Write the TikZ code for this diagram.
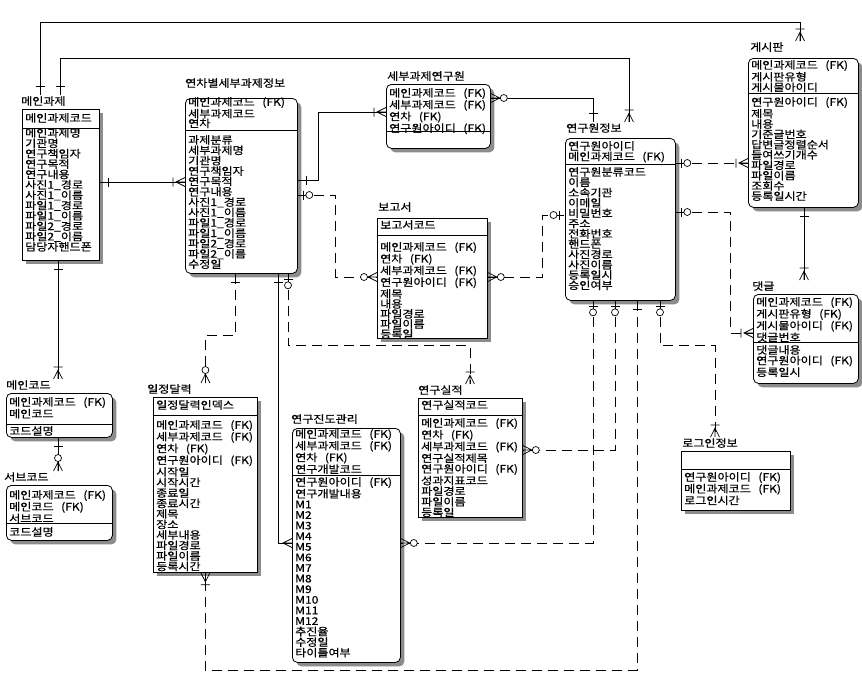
\documentclass[tikz,border=0pt]{standalone}
\usepackage{fontspec}
\newfontfamily\kr[FakeStretch=1.15,FakeBold=0.5]{Noto Sans CJK KR}
\usetikzlibrary{shadows,calc}
\newcommand{\FK}{\hspace{7.5pt}(FK)}
\begin{document}
\begin{tikzpicture}[x=1pt,y=-1pt,
  ent/.style={draw, line width=0.8pt, fill=white, inner sep=0pt, anchor=north west,
    drop shadow={shadow xshift=4pt, shadow yshift=-4pt, fill=black!45, opacity=1}},
  depent/.style={ent, rounded corners=5pt},
  sepline/.style={line width=0.8pt},
  txt/.style={font=\kr\fontsize{10.5}{#1}\selectfont, inner sep=0pt, anchor=north west, align=left},
  txt/.default=10.4,
  lbl/.style={font=\kr\fontsize{10.5}{11}\selectfont, inner sep=1pt, anchor=west},
  conn/.style={line width=0.7pt, solid},
  idrel/.style={conn},
  nidrel/.style={line width=0.7pt, dash pattern=on 10pt off 6pt},
  crowonly/.pic={\draw[conn] (0,-4.5) -- (9,0) -- (0,4.5) (0,0) -- (9,0);},
  crowbar/.pic={\draw[conn] (0,-4.5) -- (9,0) -- (0,4.5) (0,0) -- (9,0) (12,-4.5) -- (12,4.5);},
  crowcirc/.pic={\draw[conn] (0,-4.5) -- (9,0) -- (0,4.5) (0,0) -- (9,0); \draw[conn, fill=white] (13,0) circle (3.5pt);},
  onebar/.pic={\draw[conn] (9,-4.5) -- (9,4.5);},
  zeroone/.pic={\draw[conn] (6,-4.5) -- (6,4.5); \draw[conn, fill=white] (11.5,0) circle (3.5pt);}
]
\useasboundingbox (0,0) rectangle (862,697);
\fill[white] (0,0) rectangle (862,697);

% ---------------- entities ----------------
% 메인과제
\node[ent, minimum width=77pt, minimum height=151pt] (mgj) at (22,109) {};
\node[lbl] (mgjL) at (20,101) {메인과제};
\draw[sepline] (mgj.west |- 0,128) -- (mgj.east |- 0,128);
\node[txt] (mgjk) at (25,113) {메인과제코드};
\node[txt=10.35] (mgja) at (25,128) {메인과제명\\기관명\\연구책임자\\연구목적\\연구내용\\사진1\_경로\\사진1\_이름\\파일1\_경로\\파일1\_이름\\파일2\_경로\\파일2\_이름\\담당자핸드폰};

% 연차별세부과제정보
\node[depent, minimum width=112pt, minimum height=175pt] (yc) at (185,98) {};
\node[lbl] (ycL) at (184,83) {연차별세부과제정보};
\draw[sepline] (yc.west |- 0,130) -- (yc.east |- 0,130);
\node[txt=9.6] (yck) at (188,97) {메인과제코드\FK\\세부과제코드\\연차};
\node[txt=10.35] (yca) at (188,135) {과제분류\\세부과제명\\기관명\\연구책임자\\연구목적\\연구내용\\사진1\_경로\\사진1\_이름\\파일1\_경로\\파일1\_이름\\파일2\_경로\\파일2\_이름\\수정일};

% 세부과제연구원
\node[depent, minimum width=104pt, minimum height=64pt] (sby) at (386,84) {};
\node[lbl] (sbyL) at (386,76) {세부과제연구원};
\draw[sepline] (sby.west |- 0,131) -- (sby.east |- 0,131);
\node[txt=9.7] (sbyk) at (389,88) {메인과제코드\FK\\세부과제코드\FK\\연차\FK\\연구원아이디\FK};

% 보고서
\node[ent, minimum width=110pt, minimum height=120pt] (bgs) at (377,218) {};
\node[lbl] (bgsL) at (377,207) {보고서};
\draw[sepline] (bgs.west |- 0,235) -- (bgs.east |- 0,235);
\node[txt] (bgsk) at (380,220) {보고서코드};
\node[txt=10] (bgsa) at (380,242) {메인과제코드\FK\\연차\FK\\세부과제코드\FK\\연구원아이디\FK\\제목\\내용\\파일경로\\파일이름\\등록일};

% 연구원정보
\node[depent, minimum width=110pt, minimum height=162pt] (yw) at (565,138) {};
\node[lbl] (ywL) at (565,128) {연구원정보};
\draw[sepline] (yw.west |- 0,164) -- (yw.east |- 0,164);
\node[txt=9.5] (ywk) at (568,141) {연구원아이디\\메인과제코드\FK};
\node[txt=10.3] (ywa) at (568,167) {연구원분류코드\\이름\\소속기관\\이메일\\비밀번호\\주소\\전화번호\\핸드폰\\사진경로\\사진이름\\등록일시\\승인여부};

% 게시판
\node[depent, minimum width=110pt, minimum height=149pt] (gsp) at (748,58) {};
\node[lbl] (gspL) at (749,47) {게시판};
\draw[sepline] (gsp.west |- 0,93) -- (gsp.east |- 0,93);
\node[txt=9.2] (gspk) at (751,60) {메인과제코드\FK\\게시판유형\\게시물아이디};
\node[txt=10.3] (gspa) at (751,97) {연구원아이디\FK\\제목\\내용\\기준글번호\\답변글정렬순서\\들여쓰기개수\\파일경로\\파일이름\\조회수\\등록일시간};

% 댓글
\node[depent, minimum width=105pt, minimum height=89pt] (cmt) at (753,294) {};
\node[lbl] (cmtL) at (751,286) {댓글};
\draw[sepline] (cmt.west |- 0,342) -- (cmt.east |- 0,342);
\node[txt=10] (cmtk) at (756,297) {메인과제코드\FK\\게시판유형\FK\\게시물아이디\FK\\댓글번호};
\node[txt=10.5] (cmta) at (756,345) {댓글내용\\연구원아이디\FK\\등록일시};

% 메인코드
\node[depent, minimum width=106pt, minimum height=44pt] (mcd) at (6,393) {};
\node[lbl] (mcdL) at (5,385) {메인코드};
\draw[sepline] (mcd.west |- 0,424) -- (mcd.east |- 0,424);
\node[txt=9.5] (mcdk) at (9,397) {메인과제코드\FK\\메인코드};
\node[txt] (mcda) at (9,426) {코드설명};

% 서브코드
\node[depent, minimum width=106pt, minimum height=55pt] (scd) at (6,485) {};
\node[lbl] (scdL) at (3,477) {서브코드};
\draw[sepline] (scd.west |- 0,523) -- (scd.east |- 0,523);
\node[txt=9.5] (scdk) at (9,490) {메인과제코드\FK\\메인코드\FK\\서브코드};
\node[txt] (scda) at (9,527) {코드설명};

% 일정달력
\node[ent, minimum width=104pt, minimum height=175pt] (ild) at (153,397) {};
\node[lbl] (ildL) at (146,389) {일정달력};
\draw[sepline] (ild.west |- 0,415) -- (ild.east |- 0,415);
\node[txt] (ildk) at (156,400) {일정달력인덱스};
\node[txt=10.5] (ilda) at (156,420) {메인과제코드\FK\\세부과제코드\FK\\연차\FK\\연구원아이디\FK\\시작일\\시작시간\\종료일\\종료시간\\제목\\장소\\세부내용\\파일경로\\파일이름\\등록시간};

% 연구진도관리
\node[depent, minimum width=108pt, minimum height=234pt] (yjd) at (292,428) {};
\node[lbl] (yjdL) at (290,419) {연구진도관리};
\draw[sepline] (yjd.west |- 0,475) -- (yjd.east |- 0,475);
\node[txt=10] (yjdk) at (295,429) {메인과제코드\FK\\세부과제코드\FK\\연차\FK\\연구개발코드};
\node[txt=10.6] (yjda) at (295,477) {연구원아이디\FK\\연구개발내용\\M1\\M2\\M3\\M4\\M5\\M6\\M7\\M8\\M9\\M10\\M11\\M12\\추진율\\수정일\\타이틀여부};

% 연구실적
\node[ent, minimum width=104pt, minimum height=119pt] (ysj) at (418,398) {};
\node[lbl] (ysjL) at (417,390) {연구실적};
\draw[sepline] (ysj.west |- 0,415) -- (ysj.east |- 0,415);
\node[txt] (ysjk) at (421,400) {연구실적코드};
\node[txt=10.6] (ysja) at (421,418) {메인과제코드\FK\\연차\FK\\세부과제코드\FK\\연구실적제목\\연구원아이디\FK\\성과지표코드\\파일경로\\파일이름\\등록일};

% 로그인정보
\node[ent, minimum width=109pt, minimum height=59pt] (lgn) at (681,451) {};
\node[lbl] (lgnL) at (681,443) {로그인정보};
\draw[sepline] (lgn.west |- 0,469) -- (lgn.east |- 0,469);
\node[txt=10] (lgna) at (684,472) {연구원아이디\FK\\메인과제코드\FK\\로그인시간};

% ---------------- relationships ----------------
% 메인과제 -> 게시판
\draw[idrel] (mgjL.north -| 40,0) -- (40,22) -- (800,22) -- (gspL.north -| 800,0);
\path (mgjL.north -| 40,0) pic[rotate=90] {onebar};
\path (gspL.north -| 800,0) pic[rotate=90] {crowbar};
% 메인과제 -> 연구원정보
\draw[idrel] (mgjL.north -| 60,0) -- (60,58) -- (629,58) -- (ywL.north -| 629,0);
\path (mgjL.north -| 60,0) pic[rotate=90] {onebar};
\path (ywL.north -| 629,0) pic[rotate=90] {crowbar};
% 세부과제연구원 -> 연구원정보
\draw[idrel] (sby.east |- 0,98) -| (ywL.north -| 593,0);
\path (sby.east |- 0,98) pic {crowcirc};
\path (ywL.north -| 593,0) pic[rotate=90] {onebar};
% 메인과제 -> 연차별세부과제정보
\draw[idrel] (mgj.east |- 0,182) -- (yc.west |- 0,182);
\path (mgj.east |- 0,182) pic {onebar};
\path (yc.west |- 0,182) pic[rotate=180] {crowbar};
% 연차별 -> 세부과제연구원
\draw[idrel] (yc.east |- 0,180) -- ++(21,0) |- (sby.west |- 0,112);
\path (yc.east |- 0,180) pic {onebar};
\path (sby.west |- 0,112) pic[rotate=180] {crowbar};
% 연차별 -> 보고서
\draw[nidrel] (yc.east |- 0,195) -- ++(38,0) |- (bgs.west |- 0,277);
\path (yc.east |- 0,195) pic {zeroone};
\path (bgs.west |- 0,277) pic[rotate=180] {crowcirc};
% 보고서 -> 연구원정보
\draw[nidrel] (bgs.east |- 0,277) -- ++(55,0) |- (yw.west |- 0,215);
\path (bgs.east |- 0,277) pic {crowcirc};
\path (yw.west |- 0,215) pic[rotate=180] {zeroone};
% 연구원정보 -> 게시판
\draw[nidrel] (yw.east |- 0,163) -- (gsp.west |- 0,163);
\path (yw.east |- 0,163) pic {zeroone};
\path (gsp.west |- 0,163) pic[rotate=180] {crowbar};
% 연구원정보 -> 댓글
\draw[nidrel] (yw.east |- 0,212) -- ++(55,0) |- (cmt.west |- 0,333);
\path (yw.east |- 0,212) pic {zeroone};
\path (cmt.west |- 0,333) pic[rotate=180] {crowbar};
% 게시판 -> 댓글
\draw[idrel] (gsp.south -| 804,0) -- (cmtL.north -| 804,0);
\path (gsp.south -| 804,0) pic[rotate=270] {onebar};
\path (cmtL.north -| 804,0) pic[rotate=90] {crowbar};
% 메인과제 -> 메인코드
\draw[idrel] (mgj.south -| 58,0) -- (mcdL.north -| 58,0);
\path (mgj.south -| 58,0) pic[rotate=270] {onebar};
\path (mcdL.north -| 58,0) pic[rotate=90] {crowbar};
% 메인코드 -> 서브코드
\draw[idrel] (mcd.south -| 58,0) -- (scdL.north -| 58,0);
\path (mcd.south -| 58,0) pic[rotate=270] {onebar};
\path (scdL.north -| 58,0) pic[rotate=90] {crowcirc};
% 연차별 -> 일정달력
\draw[nidrel] (yc.south -| 235,0) -- ++(0,62) -| (ildL.north -| ild.north);
\path (yc.south -| 235,0) pic[rotate=270] {onebar};
\path (ildL.north -| ild.north) pic[rotate=90] {crowcirc};
% 연차별 -> 연구진도관리
\draw[idrel] (yc.south -| 278,0) |- (yjd.west |- 0,543);
\path (yc.south -| 278,0) pic[rotate=270] {onebar};
\path (yjd.west |- 0,543) pic[rotate=180] {crowonly};
% 연차별 -> 연구실적
\draw[nidrel] (yc.south -| 288,0) -- ++(0,72) -| (ysjL.north -| 470,0);
\path (yc.south -| 288,0) pic[rotate=270] {zeroone};
\path (ysjL.north -| 470,0) pic[rotate=90] {crowbar};
% 연구원정보 -> 연구진도관리
\draw[nidrel] (yw.south -| 593,0) |- (yjd.east |- 0,543);
\path (yw.south -| 593,0) pic[rotate=270] {zeroone};
\path (yjd.east |- 0,543) pic {crowcirc};
% 연구원정보 -> 연구실적
\draw[nidrel] (yw.south -| 615,0) |- (ysj.east |- 0,450);
\path (yw.south -| 615,0) pic[rotate=270] {zeroone};
\path (ysj.east |- 0,450) pic {crowcirc};
% 연구원정보 -> 일정달력
\draw[nidrel] (yw.south -| 637,0) |- (ild.south |- 0,670) -- (ild.south);
\path (yw.south -| 637,0) pic[rotate=270] {onebar};
\path (ild.south) pic[rotate=270] {crowbar};
% 연구원정보 -> 로그인정보
\draw[nidrel] (yw.south -| 660,0) -- ++(0,45) -| (lgnL.north -| 715,0);
\path (yw.south -| 660,0) pic[rotate=270] {zeroone};
\path (lgnL.north -| 715,0) pic[rotate=90] {crowbar};
\end{tikzpicture}
\end{document}
